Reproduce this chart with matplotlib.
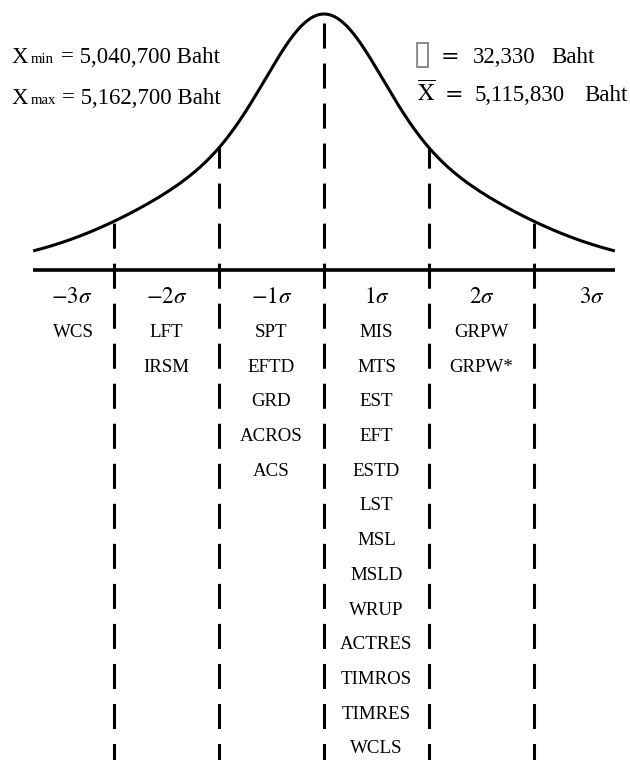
import numpy as np
import matplotlib
matplotlib.use("Agg")
import matplotlib.pyplot as plt
from matplotlib.patches import Polygon

plt.rcParams["font.family"] = ["Liberation Serif", "DejaVu Serif"]
plt.rcParams["mathtext.fontset"] = "stix"

# ---- chart content ----
sigma_labels = [r"$-3\sigma$", r"$-2\sigma$", r"$-1\sigma$", r"$1\sigma$", r"$2\sigma$", r"$3\sigma$"]
sigma_label_pos = [-2.4, -1.5, -0.5, 0.5, 1.5, 2.55]
boundaries = [-2, -1, 0, 1, 2]
axis_extent = 2.77

group_centers = [-2.385, -1.5, -0.5, 0.5, 1.5]
group_neg3 = ["WCS"]
group_neg2 = ["LFT", "IRSM"]
group_neg1 = ["SPT", "EFTD", "GRD", "ACROS", "ACS"]
group_pos1 = ["MIS", "MTS", "EST", "EFT", "ESTD", "LST", "MSL", "MSLD",
              "WRUP", "ACTRES", "TIMROS", "TIMRES", "WCLS"]
group_pos2 = ["GRPW", "GRPW*"]
groups = [group_neg3, group_neg2, group_neg1, group_pos1, group_pos2]

x_min_value = "5,040,700"
x_max_value = "5,162,700"
sd_value = "32,330"
mean_value = "5,115,830"
unit = "Baht"

# bell outline: blend of a narrow and a wide gaussian bump
bell_weight = 0.473
bell_narrow = 0.51
bell_wide = 1.40


def bell(x):
    return (bell_weight * np.exp(-x ** 2 / (2 * bell_narrow ** 2))
            + (1 - bell_weight) * np.exp(-x ** 2 / (2 * bell_wide ** 2)))


# ---- layout (pixel grid of the 630 x 760 canvas) ----
W, H = 630, 760
CX, SX = 324.0, 105.0      # centre column, pixels per sigma
AY, SY = 270.0, 256.0      # baseline row, pixels per unit of curve height


def px_x(p):
    return (p - CX) / SX


def px_y(p):
    return (AY - p) / SY


fig = plt.figure(figsize=(W / 100, H / 100), dpi=100)
ax = fig.add_axes([0, 0, 1, 1])
ax.set_xlim(px_x(0), px_x(W))
ax.set_ylim(px_y(H), px_y(0))
ax.axis("off")

# bell curve
xs = np.linspace(-axis_extent, axis_extent, 800)
ys = bell(xs)
ax.plot(xs, ys, color="black", lw=2.2, solid_capstyle="butt")

# horizontal axis
ax.plot([-axis_extent, axis_extent], [0, 0], color="black", lw=2.6,
        solid_capstyle="butt")

# region beneath the curve, used to clip the dashed dividers
below = np.vstack([np.column_stack([xs, ys]),
                   [[axis_extent, px_y(H + 50)], [-axis_extent, px_y(H + 50)]]])
under = Polygon(below, closed=True, transform=ax.transData)

for b in boundaries:
    ln, = ax.plot([b, b], [px_y(23), px_y(H + 20)], color="black", lw=2.2,
                  linestyle=(0, (8.2, 4.9)), dash_capstyle="butt")
    ln.set_clip_path(under)

# sigma labels
for lab, pos in zip(sigma_labels, sigma_label_pos):
    ax.text(pos, px_y(303), lab, ha="center", va="baseline", fontsize=16.5)

# group members
row0, row_step = 337.0, 34.7
for cx, names in zip(group_centers, groups):
    for k, name in enumerate(names):
        ax.text(cx, px_y(row0 + k * row_step), name, ha="center",
                va="baseline", fontsize=13.6)

# summary, left
big, small = 16.5, 10.7
ax.text(px_x(12), px_y(63), "X", fontsize=big, va="baseline")
ax.text(px_x(31), px_y(63), "min", fontsize=small, va="baseline")
ax.text(px_x(61), px_y(63), f"= {x_min_value} {unit}", fontsize=big, va="baseline")
ax.text(px_x(12), px_y(104), "X", fontsize=big, va="baseline")
ax.text(px_x(31), px_y(104), "max", fontsize=small, va="baseline")
ax.text(px_x(62), px_y(104), f"= {x_max_value} {unit}", fontsize=big, va="baseline")

# summary, right
ax.text(px_x(413), px_y(64), "\u25AF", fontsize=25, va="baseline",
        color="#888888", family="DejaVu Sans")
ax.text(px_x(441), px_y(63), "=", fontsize=16, va="baseline", family="DejaVu Sans")
ax.text(px_x(473), px_y(63), sd_value, fontsize=big, va="baseline")
ax.text(px_x(551), px_y(63), unit, fontsize=big, va="baseline")

ax.text(px_x(417), px_y(101), r"$\overline{\mathrm{X}}$", fontsize=big, va="baseline")
ax.text(px_x(445), px_y(101), "=", fontsize=16, va="baseline", family="DejaVu Sans")
ax.text(px_x(475), px_y(101), mean_value, fontsize=big, va="baseline")
ax.text(px_x(584), px_y(101), unit, fontsize=big, va="baseline")

fig.savefig("out.png", dpi=100, facecolor="white")
